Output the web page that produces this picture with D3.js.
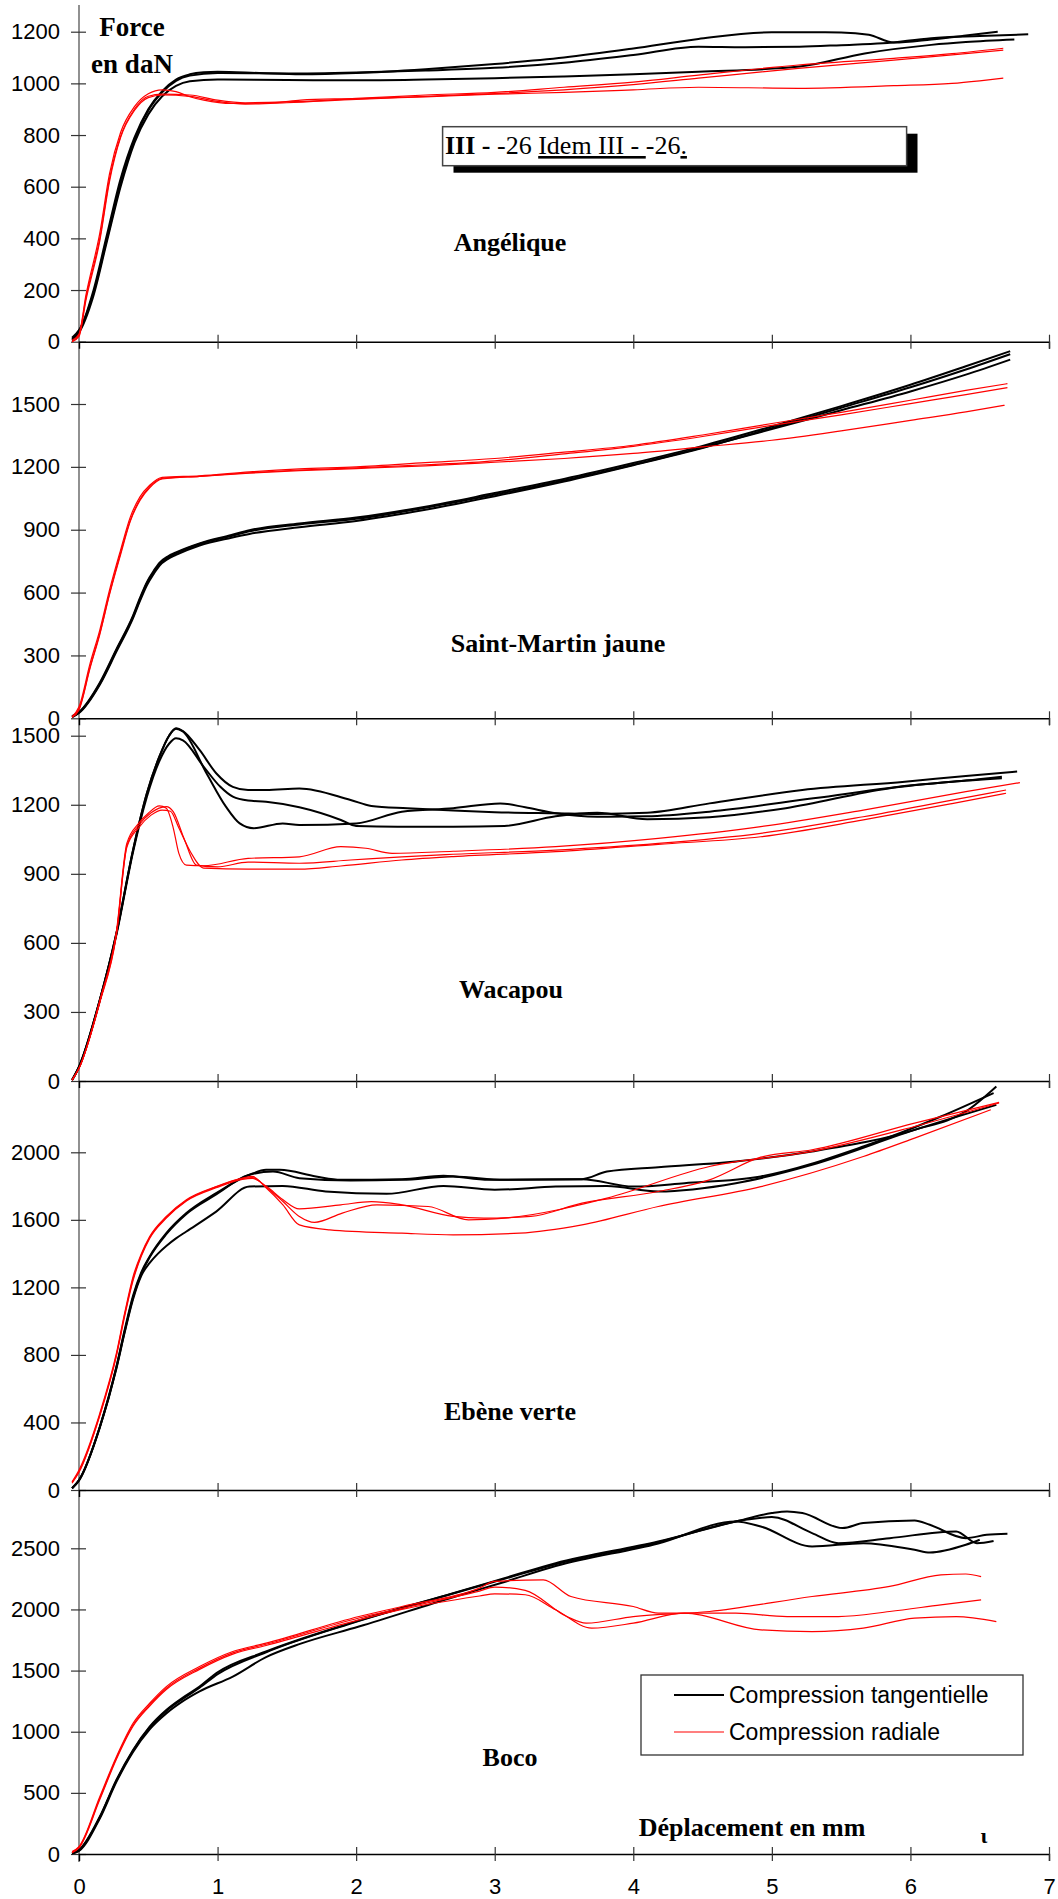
<!DOCTYPE html>
<html><head><meta charset="utf-8">
<script src="https://cdn.jsdelivr.net/npm/d3@7"></script>
<style>body{margin:0;background:#fff}svg{display:block}</style>
</head><body><svg id="c" width="1058" height="1899"></svg>
<script>
// ---------------- DATA ----------------
const xTicks = [0,1,2,3,4,5,6,7];
const panelNames = ["Angélique","Saint-Martin jaune","Wacapou","Ebène verte","Boco"];
const seriesNames = ["Compression tangentielle","Compression radiale"];
const angTicks = [0,200,400,600,800,1000,1200];
const smjTicks = [0,300,600,900,1200,1500];
const wacTicks = [0,300,600,900,1200,1500];
const ebvTicks = [0,400,800,1200,1600,2000];
const bocTicks = [0,500,1000,1500,2000,2500];

// Angélique
const angT1 = [[-0.05,10],[0,40],[0.1,190],[0.2,410],[0.3,630],[0.4,790],[0.5,900],[0.6,970],[0.7,1015],[0.8,1035],[0.9,1043],[1.0,1045],[1.3,1040],[1.6,1035],[2,1040],[2.5,1055],[3,1075],[3.5,1100],[4,1135],[4.47,1172],[5,1198],[5.5,1197],[5.7,1188],[5.88,1158],[6.15,1170],[6.4,1185],[6.63,1200]];
const angT2 = [[-0.05,15],[0,45],[0.1,180],[0.2,395],[0.3,610],[0.4,780],[0.5,895],[0.6,965],[0.7,1010],[0.8,1030],[1.0,1040],[1.5,1038],[2,1042],[2.5,1050],[3,1060],[3.5,1080],[4,1110],[4.47,1142],[4.8,1140],[5.2,1142],[5.5,1148],[5.8,1155],[6.15,1175],[6.5,1183],[6.85,1190]];
const angT3 = [[-0.05,5],[0,35],[0.1,170],[0.2,385],[0.3,600],[0.4,770],[0.5,880],[0.6,950],[0.7,990],[0.8,1008],[1.0,1015],[1.5,1013],[2,1012],[2.5,1015],[3,1020],[3.5,1027],[4,1035],[4.47,1045],[5.2,1065],[5.67,1116],[6.15,1149],[6.4,1160],[6.75,1170]];
const angR1 = [[-0.05,5],[0,30],[0.05,180],[0.15,420],[0.22,650],[0.3,810],[0.4,910],[0.5,960],[0.6,975],[0.7,968],[0.8,948],[0.9,935],[1.1,922],[1.4,925],[1.6,935],[2,942],[2.5,955],[3,965],[3.5,985],[4,1005],[4.47,1032],[5.19,1071],[5.88,1097],[6.3,1115],[6.67,1136]];
const angR2 = [[-0.05,0],[0,25],[0.05,170],[0.15,400],[0.22,630],[0.3,795],[0.4,900],[0.5,950],[0.6,958],[0.8,955],[1.0,935],[1.2,925],[1.5,928],[2,940],[2.5,950],[3,960],[3.5,975],[4,995],[4.47,1020],[5.19,1058],[5.88,1090],[6.3,1110],[6.67,1129]];
const angR3 = [[-0.05,0],[0,20],[0.05,160],[0.15,390],[0.22,620],[0.3,790],[0.4,895],[0.5,945],[0.6,955],[0.8,950],[1.0,930],[1.2,920],[1.5,925],[2,938],[2.5,948],[3,958],[3.5,965],[4,975],[4.47,985],[5.19,981],[5.88,991],[6.3,1000],[6.5,1010],[6.67,1020]];

// Saint-Martin jaune
const smjT1 = [[-0.05,10],[0,30],[0.15,170],[0.27,330],[0.39,490],[0.44,575],[0.49,650],[0.54,705],[0.58,742],[0.64,772],[0.7,792],[0.87,835],[1.1,875],[1.23,898],[1.59,930],[2,958],[2.5,1010],[3,1075],[3.5,1142],[4,1218],[4.5,1300],[5,1393],[5.5,1490],[6,1592],[6.4,1680],[6.72,1752]];
const smjT2 = [[-0.05,5],[0,25],[0.15,160],[0.27,318],[0.39,478],[0.44,560],[0.49,635],[0.54,690],[0.58,728],[0.64,760],[0.7,780],[0.87,825],[1.1,862],[1.23,880],[1.59,912],[2,942],[2.5,995],[3,1060],[3.5,1130],[4,1208],[4.5,1290],[5,1385],[5.5,1482],[6,1580],[6.4,1665],[6.72,1738]];
const smjT3 = [[-0.05,8],[0,28],[0.15,165],[0.27,325],[0.39,485],[0.44,568],[0.49,645],[0.54,698],[0.58,735],[0.64,766],[0.7,787],[0.87,832],[1.1,870],[1.23,892],[1.59,925],[2,952],[2.5,1005],[3,1068],[3.5,1135],[4,1210],[4.5,1292],[5,1380],[5.5,1470],[6,1560],[6.4,1640],[6.72,1712]];
const smjR1 = [[-0.05,8],[0,55],[0.08,262],[0.15,421],[0.22,612],[0.3,803],[0.37,960],[0.44,1057],[0.51,1112],[0.6,1150],[0.87,1157],[1.23,1176],[1.59,1190],[2,1200],[2.5,1220],[3,1240],[3.5,1270],[4,1303],[4.5,1352],[5,1407],[5.5,1460],[6,1518],[6.4,1565],[6.7,1597]];
const smjR2 = [[-0.05,5],[0,45],[0.08,245],[0.15,405],[0.22,595],[0.3,790],[0.37,945],[0.44,1045],[0.51,1105],[0.6,1145],[0.87,1155],[1.23,1172],[1.59,1185],[2,1195],[2.5,1210],[3,1229],[3.5,1262],[4,1298],[4.5,1345],[5,1398],[5.5,1448],[6,1502],[6.4,1545],[6.7,1578]];
const smjR3 = [[-0.05,5],[0,40],[0.08,240],[0.15,400],[0.22,590],[0.3,780],[0.37,940],[0.44,1040],[0.51,1100],[0.6,1142],[0.87,1155],[1.23,1170],[1.59,1182],[2,1192],[2.5,1205],[3,1222],[3.5,1240],[4,1264],[4.5,1295],[5,1327],[5.5,1372],[6,1422],[6.4,1462],[6.68,1494]];

// Wacapou
const wacT1 = [[-0.05,4],[0,62],[0.15,352],[0.27,642],[0.39,1003],[0.49,1250],[0.58,1409],[0.65,1500],[0.7,1532],[0.75,1520],[0.87,1438],[0.99,1337],[1.11,1278],[1.22,1264],[1.35,1264],[1.59,1271],[1.96,1221],[2.11,1195],[2.37,1185],[2.7,1175],[3.0,1168],[3.44,1163],[3.74,1160],[4.1,1165],[4.55,1206],[5.22,1264],[5.96,1300],[6.4,1325],[6.77,1344]];
const wacT2 = [[-0.05,4],[0,60],[0.15,350],[0.27,635],[0.39,995],[0.49,1235],[0.58,1390],[0.65,1465],[0.7,1489],[0.75,1480],[0.9,1365],[1.02,1278],[1.11,1235],[1.22,1218],[1.35,1213],[1.59,1189],[1.89,1134],[2.0,1108],[2.3,1105],[2.7,1105],[3.07,1108],[3.44,1150],[3.74,1165],[4.1,1137],[4.55,1146],[5.1,1185],[5.84,1271],[6.3,1300],[6.66,1315]];
const wacT3 = [[-0.05,4],[0,62],[0.15,352],[0.27,642],[0.39,1003],[0.49,1250],[0.58,1409],[0.65,1500],[0.7,1530],[0.75,1518],[0.92,1337],[1.06,1192],[1.16,1119],[1.26,1098],[1.47,1119],[1.59,1112],[2.0,1119],[2.33,1170],[2.7,1185],[3.04,1206],[3.22,1189],[3.44,1163],[3.74,1148],[4.1,1150],[4.55,1170],[5.3,1228],[6.03,1286],[6.4,1305],[6.66,1322]];
const wacR1 = [[-0.05,4],[0,55],[0.15,350],[0.27,650],[0.345,1032],[0.43,1119],[0.5,1163],[0.58,1195],[0.63,1185],[0.68,1100],[0.72,990],[0.775,938],[0.9,935],[1.22,967],[1.59,974],[1.89,1018],[2.07,1011],[2.26,989],[2.7,998],[3.44,1018],[4.18,1054],[4.92,1105],[5.66,1177],[6.4,1257],[6.79,1296]];
const wacR2 = [[-0.05,4],[0,55],[0.15,345],[0.27,640],[0.345,1020],[0.43,1110],[0.52,1165],[0.63,1192],[0.68,1170],[0.76,1050],[0.847,938],[1.0,930],[1.22,951],[1.59,946],[1.96,960],[2.33,974],[2.7,985],[3.44,1003],[4.18,1032],[4.92,1076],[5.66,1148],[6.3,1220],[6.69,1264]];
const wacR3 = [[-0.05,4],[0,55],[0.15,340],[0.27,635],[0.345,1015],[0.43,1100],[0.52,1155],[0.6,1177],[0.66,1172],[0.72,1100],[0.8,1000],[0.9,925],[1.22,920],[1.59,920],[1.89,934],[2.33,960],[2.7,975],[3.44,996],[4.18,1028],[4.92,1061],[5.66,1134],[6.3,1205],[6.69,1250]];

// Ebène verte
const ebvT1 = [[-0.05,10],[0,59],[0.15,375],[0.27,731],[0.33,950],[0.39,1150],[0.45,1290],[0.51,1383],[0.63,1521],[0.775,1640],[0.99,1758],[1.23,1867],[1.35,1896],[1.45,1896],[1.71,1857],[1.89,1837],[2.33,1841],[2.63,1861],[2.96,1837],[3.63,1841],[3.81,1886],[4.18,1912],[4.74,1946],[5.29,2005],[6.03,2133],[6.4,2242],[6.62,2390]];
const ebvT2 = [[-0.05,10],[0,59],[0.15,370],[0.27,725],[0.33,940],[0.39,1140],[0.45,1282],[0.51,1378],[0.63,1515],[0.775,1635],[0.99,1750],[1.22,1865],[1.4,1886],[1.59,1847],[1.96,1833],[2.33,1837],[2.7,1857],[3.07,1837],[3.63,1841],[4.0,1797],[4.37,1817],[4.92,1857],[5.66,2034],[6.22,2212],[6.6,2351]];
const ebvT3 = [[-0.05,10],[0,55],[0.15,370],[0.27,720],[0.33,935],[0.39,1130],[0.45,1270],[0.51,1345],[0.57,1400],[0.63,1445],[0.7,1490],[0.775,1531],[0.99,1649],[1.23,1797],[1.47,1801],[1.78,1768],[2.22,1754],[2.63,1801],[3.0,1778],[3.44,1797],[3.81,1801],[4.18,1768],[4.74,1817],[5.29,1926],[6.03,2133],[6.62,2281]];
const ebvR1 = [[-0.05,49],[0,119],[0.15,454],[0.27,810],[0.33,1050],[0.39,1264],[0.45,1400],[0.51,1501],[0.63,1620],[0.775,1719],[0.99,1797],[1.18,1847],[1.25,1857],[1.35,1790],[1.47,1690],[1.59,1570],[1.81,1541],[2.33,1521],[2.7,1511],[3.18,1521],[3.63,1570],[4.18,1679],[4.92,1797],[5.66,1975],[6.03,2084],[6.58,2252]];
const ebvR2 = [[-0.05,45],[0,110],[0.15,445],[0.27,800],[0.33,1040],[0.39,1250],[0.45,1392],[0.51,1495],[0.63,1615],[0.775,1715],[0.99,1795],[1.18,1845],[1.25,1850],[1.35,1795],[1.47,1710],[1.59,1620],[1.7,1585],[1.9,1640],[2.15,1689],[2.52,1679],[2.81,1600],[3.07,1610],[3.81,1729],[4.55,1916],[5.29,2005],[6.03,2153],[6.64,2292]];
const ebvR3 = [[-0.05,40],[0,105],[0.15,440],[0.27,795],[0.33,1030],[0.39,1240],[0.45,1385],[0.51,1490],[0.63,1610],[0.775,1712],[0.99,1790],[1.18,1840],[1.25,1845],[1.35,1800],[1.47,1720],[1.59,1665],[1.89,1689],[2.11,1708],[2.33,1689],[2.7,1620],[2.92,1610],[3.26,1620],[3.63,1699],[4.18,1768],[4.55,1837],[4.92,1971],[5.29,2015],[6.03,2173],[6.64,2296]];

// Boco
const bocT1 = [[-0.05,6],[0,33],[0.15,305],[0.27,606],[0.39,851],[0.51,1042],[0.63,1178],[0.75,1280],[0.87,1370],[1.0,1485],[1.35,1656],[1.96,1888],[2.7,2133],[3.07,2256],[3.44,2379],[4.18,2556],[4.74,2719],[5.0,2788],[5.11,2801],[5.22,2788],[5.51,2665],[5.66,2706],[6.03,2728],[6.14,2692],[6.4,2583],[6.55,2610],[6.7,2620]];
const bocT2 = [[-0.05,5],[0,30],[0.15,300],[0.27,600],[0.39,845],[0.51,1035],[0.63,1170],[0.75,1270],[0.87,1360],[1.0,1470],[1.35,1650],[1.96,1885],[2.7,2130],[3.07,2250],[3.44,2370],[4.18,2550],[4.81,2733],[5.0,2755],[5.29,2624],[5.48,2542],[5.85,2583],[6.33,2638],[6.48,2542],[6.6,2560]];
const bocT3 = [[-0.05,3],[0,25],[0.15,290],[0.27,590],[0.39,835],[0.51,1020],[0.63,1150],[0.75,1250],[0.87,1330],[1.11,1451],[1.35,1610],[1.6,1720],[2.02,1860],[2.7,2100],[3.07,2225],[3.44,2355],[4.18,2540],[4.74,2719],[4.92,2678],[5.29,2515],[5.66,2542],[6.03,2488],[6.14,2466],[6.4,2529],[6.5,2570]];
const bocR1 = [[-0.05,20],[0,61],[0.15,469],[0.27,796],[0.39,1069],[0.51,1233],[0.63,1369],[0.87,1533],[1.11,1656],[1.35,1724],[2.02,1942],[2.33,2024],[2.89,2174],[3.0,2229],[3.35,2242],[3.55,2106],[4.0,2024],[4.18,1970],[4.74,1970],[5.11,1942],[5.48,1942],[5.85,1983],[6.22,2038],[6.51,2079]];
const bocR2 = [[-0.05,15],[0,55],[0.15,455],[0.27,785],[0.39,1055],[0.51,1220],[0.63,1355],[0.87,1520],[1.11,1645],[1.35,1715],[2.02,1930],[2.33,2010],[2.89,2150],[3.0,2183],[3.22,2156],[3.52,1942],[3.66,1888],[4.0,1942],[4.55,1983],[5.29,2106],[5.85,2188],[6.22,2283],[6.4,2290],[6.51,2269]];
const bocR3 = [[-0.05,10],[0,50],[0.15,445],[0.27,775],[0.39,1045],[0.51,1210],[0.63,1345],[0.87,1510],[1.11,1635],[1.35,1705],[2.02,1915],[2.33,2000],[2.89,2110],[3.0,2128],[3.22,2120],[3.44,1997],[3.7,1847],[4.0,1888],[4.37,1970],[4.92,1833],[5.29,1819],[5.66,1847],[6.03,1929],[6.33,1942],[6.62,1901]];

// ---------------- LAYOUT ----------------
const panels = [
  {name: panelNames[0], ticks: angTicks, tan: [angT1, angT2, angT3], rad: [angR1, angR2, angR3]},
  {name: panelNames[1], ticks: smjTicks, tan: [smjT1, smjT2, smjT3], rad: [smjR1, smjR2, smjR3]},
  {name: panelNames[2], ticks: wacTicks, tan: [wacT1, wacT2, wacT3], rad: [wacR1, wacR2, wacR3]},
  {name: panelNames[3], ticks: ebvTicks, tan: [ebvT1, ebvT2, ebvT3], rad: [ebvR1, ebvR2, ebvR3]},
  {name: panelNames[4], ticks: bocTicks, tan: [bocT1, bocT2, bocT3], rad: [bocR1, bocR2, bocR3]}
];
const layout = [
  {zeroY: 341.7, refY: 31.7, labelX: 510, labelY: 251},
  {zeroY: 718.3, refY: 404, labelX: 558, labelY: 652},
  {zeroY: 1081, refY: 735.7, labelX: 511, labelY: 998},
  {zeroY: 1490, refY: 1152.3, labelX: 510, labelY: 1420},
  {zeroY: 1854, refY: 1548.3, labelX: 510, labelY: 1766}
];
const BLACK = "#000", RED = "#ff0000";
const sans = "'Liberation Sans', Arial, sans-serif";
const serif = "'Liberation Serif', 'Times New Roman', serif";

const svg = d3.select("#c");
svg.append("rect").attr("width",1058).attr("height",1899).attr("fill","#fff");
const x = d3.scaleLinear().domain([0, 7]).range([79, 1049]);

// continuous vertical axis line
svg.append("line").attr("x1", x(0)).attr("x2", x(0)).attr("y1", 5).attr("y2", 1862)
  .attr("stroke", "#555").attr("stroke-width", 1.3);

panels.forEach((p, i) => {
  const L = layout[i];
  const refVal = p.ticks[p.ticks.length - 1];
  const y = d3.scaleLinear().domain([0, refVal]).range([L.zeroY, L.refY]);
  const g = svg.append("g");

  const ya = g.append("g").attr("transform", `translate(${x(0)},0)`)
    .call(d3.axisLeft(y).tickValues(p.ticks).tickSize(8).tickPadding(11).tickFormat(d3.format("d")));
  ya.select(".domain").remove();
  ya.selectAll(".tick line").attr("x1", 7).attr("x2", -8).attr("stroke", "#333").attr("stroke-width", 1.2);
  ya.selectAll(".tick text").attr("font-family", sans).attr("font-size", 22).attr("fill", "#000");

  const last = i === panels.length - 1;
  const xa = g.append("g").attr("transform", `translate(0,${L.zeroY})`)
    .call(d3.axisBottom(x).tickValues(xTicks).tickSizeOuter(0).tickSize(7).tickFormat(last ? d3.format("d") : ""));
  xa.select(".domain").attr("stroke", "#000").attr("stroke-width", 1.4);
  xa.selectAll(".tick line").attr("y1", -7).attr("y2", 7).attr("stroke", "#333").attr("stroke-width", 1.2);
  xa.selectAll(".tick").filter(d => d === 0).select("line").remove();
  if (last) {
    xa.selectAll(".tick text").attr("y", 24).attr("dy", "0.71em")
      .attr("font-family", sans).attr("font-size", 22).attr("fill", "#000");
  }

  const line = d3.line().x(d => x(d[0])).y(d => y(d[1])).curve(d3.curveMonotoneX);
  p.tan.forEach(s => g.append("path").attr("d", line(s)).attr("fill", "none")
    .attr("stroke", BLACK).attr("stroke-width", 2).attr("stroke-linejoin", "round"));
  p.rad.forEach(s => g.append("path").attr("d", line(s)).attr("fill", "none")
    .attr("stroke", RED).attr("stroke-width", 1.2).attr("stroke-linejoin", "round"));

  g.append("text").attr("x", L.labelX).attr("y", L.labelY).attr("text-anchor", "middle")
    .attr("font-family", serif).attr("font-weight", "bold").attr("font-size", 26).text(p.name);
});

// Y title
svg.append("text").attr("x", 132).attr("y", 36).attr("text-anchor", "middle")
  .attr("font-family", serif).attr("font-weight", "bold").attr("font-size", 27).text("Force");
svg.append("text").attr("x", 132).attr("y", 73).attr("text-anchor", "middle")
  .attr("font-family", serif).attr("font-weight", "bold").attr("font-size", 27).text("en daN");

// X title
svg.append("text").attr("x", 752).attr("y", 1836).attr("text-anchor", "middle")
  .attr("font-family", serif).attr("font-weight", "bold").attr("font-size", 26).text("Déplacement en mm");
svg.append("text").attr("x", 984).attr("y", 1843).attr("text-anchor", "middle")
  .attr("font-family", serif).attr("font-weight", "bold").attr("font-size", 22).text("ι");

// Boxed caption with shadow
svg.append("rect").attr("x", 453.5).attr("y", 133.7).attr("width", 464).attr("height", 39).attr("fill", "#000");
svg.append("rect").attr("x", 442.6).attr("y", 126.7).attr("width", 464).attr("height", 39)
  .attr("fill", "#fff").attr("stroke", "#444").attr("stroke-width", 1.5);
const cap = svg.append("text").attr("x", 445).attr("y", 154).attr("font-family", serif)
  .attr("font-size", 26).style("white-space", "pre");
cap.append("tspan").attr("font-weight", "bold").text("III - ");
cap.append("tspan").text("-26 ");
cap.append("tspan").attr("text-decoration", "underline").text("Idem III - ");
cap.append("tspan").text("-26");
cap.append("tspan").attr("text-decoration", "underline").text(".");

// Legend
const lg = svg.append("g");
lg.append("rect").attr("x", 641).attr("y", 1675).attr("width", 382).attr("height", 80)
  .attr("fill", "#fff").attr("stroke", "#333").attr("stroke-width", 1.3);
[[seriesNames[0], BLACK, 2, 1695], [seriesNames[1], RED, 1.2, 1732]].forEach(([t, c, w, yy]) => {
  lg.append("line").attr("x1", 674).attr("x2", 724).attr("y1", yy).attr("y2", yy)
    .attr("stroke", c).attr("stroke-width", w);
  lg.append("text").attr("x", 729).attr("y", yy).attr("dy", "0.35em")
    .attr("font-family", sans).attr("font-size", 23).attr("fill", "#000").text(t);
});
</script></body></html>
